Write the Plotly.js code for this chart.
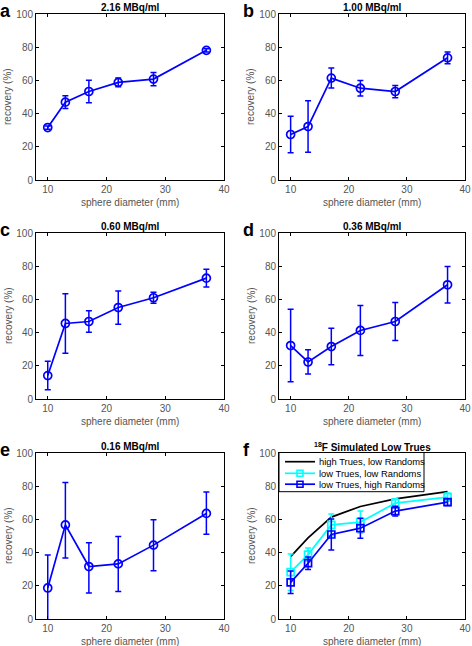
<!DOCTYPE html>
<html>
<head>
<meta charset="utf-8">
<script src="https://cdn.plot.ly/plotly-3.0.1.min.js"></script>
<style>html,body{margin:0;padding:0;background:#fff;}#chart{width:472px;height:646px;}</style>
</head>
<body>
<div id="chart"></div>
<script>
// ---- data ----
const diameters = [10, 13, 17, 22, 28, 37];
const panelLetters = ['a', 'b', 'c', 'd', 'e', 'f'];
const panelTitles = ['2.16 MBq/ml', '1.00 MBq/ml', '0.60 MBq/ml', '0.36 MBq/ml', '0.16 MBq/ml', '<sup>18</sup>F Simulated Low Trues'];

const recA = [31.6, 46.9, 53.3, 58.8, 60.8, 78.1];
const errA = [1.0, 3.8, 6.8, 2.6, 4.0, 1.0];
const recB = [27.4, 32.2, 61.4, 55.3, 53.3, 73.6];
const errB = [11.0, 15.5, 6.0, 4.7, 3.7, 3.5];
const recC = [14.1, 45.5, 46.7, 55.1, 61.0, 72.8];
const errC = [8.6, 17.9, 6.5, 10.0, 3.3, 5.3];
const recD = [32.2, 22.3, 31.6, 41.3, 46.7, 68.8];
const errD = [21.8, 7.3, 11.0, 15.1, 11.4, 11.0];
const recE = [18.7, 56.7, 31.6, 33.2, 44.5, 63.6];
const errEplus = [19.9, 25.6, 14.3, 16.5, 15.3, 12.9];
const errEminus = [19.9, 19.9, 15.9, 16.7, 15.5, 12.5];

const seriesNamesF = ['high Trues, low Randoms', 'low Trues, low Randoms', 'low Trues, high Randoms'];
const recFhighTrues = [37.6, 48.9, 61.4, 67.8, 72.4, 76.7];
const recFlowLow = [28.2, 38.8, 56.7, 58.4, 69.8, 73.4];
const errFlowLow = [11.0, 4.0, 6.5, 6.6, 2.7, 2.5];
const recFlowHigh = [22.1, 33.6, 50.9, 54.7, 65.0, 70.4];
const errFlowHigh = [6.8, 3.8, 9.4, 6.0, 2.9, 2.0];

const xTicks = [10, 20, 30, 40];
const yTicks = [0, 20, 40, 60, 80, 100];
const xLabel = 'sphere diameter (mm)';
const yLabel = 'recovery (%)';

// ---- layout geometry (pixels) ----
const W = 472, H = 646;
const cols = [[36, 224], [279, 465]];
const rows = [[14, 180], [233, 399], [453, 619]];
const FONT = 'Arial, "Liberation Sans", Helvetica, sans-serif';
const BLUE = '#0000ff';
const CYAN = '#00ffff';
const seriesColorsF = ['#000000', CYAN, BLUE];
const seriesMarkerF = [false, true, true];

const traces = [];
const layout = {
  width: W, height: H,
  margin: {l: 0, r: 0, t: 0, b: 0},
  paper_bgcolor: '#fff', plot_bgcolor: '#fff',
  showlegend: false,
  font: {family: FONT, size: 10, color: '#555'},
  annotations: [],
  shapes: []
};

function blueTrace(idx, y, ep, em) {
  const ax = idx === 0 ? '' : String(idx + 1);
  return {
    x: diameters, y: y, type: 'scatter', mode: 'lines+markers',
    xaxis: 'x' + ax, yaxis: 'y' + ax, showlegend: false,
    line: {color: BLUE, width: 1.7},
    marker: {symbol: 'circle-open', size: 8, color: BLUE, line: {width: 1.7, color: BLUE}},
    error_y: {type: 'data', symmetric: em === undefined, array: ep, arrayminus: em, color: BLUE, thickness: 1.5, width: 3},
    hoverinfo: 'skip'
  };
}

traces.push(blueTrace(0, recA, errA));
traces.push(blueTrace(1, recB, errB));
traces.push(blueTrace(2, recC, errC));
traces.push(blueTrace(3, recD, errD));
traces.push(blueTrace(4, recE, errEplus, errEminus));

// panel f
traces.push({
  x: diameters, y: recFhighTrues, type: 'scatter', mode: 'lines', name: seriesNamesF[0],
  xaxis: 'x6', yaxis: 'y6', line: {color: seriesColorsF[0], width: 1.7}, hoverinfo: 'skip'
});
traces.push({
  x: diameters, y: recFlowLow, type: 'scatter', mode: 'lines+markers', name: seriesNamesF[1],
  xaxis: 'x6', yaxis: 'y6', line: {color: seriesColorsF[1], width: 1.7},
  marker: {symbol: 'square-open', size: 7, color: seriesColorsF[1], line: {width: 1.7, color: seriesColorsF[1]}},
  error_y: {type: 'data', array: errFlowLow, color: seriesColorsF[1], thickness: 1.5, width: 3}, hoverinfo: 'skip'
});
traces.push({
  x: diameters, y: recFlowHigh, type: 'scatter', mode: 'lines+markers', name: seriesNamesF[2],
  xaxis: 'x6', yaxis: 'y6', line: {color: seriesColorsF[2], width: 1.7},
  marker: {symbol: 'square-open', size: 7, color: seriesColorsF[2], line: {width: 1.7, color: seriesColorsF[2]}},
  error_y: {type: 'data', array: errFlowHigh, color: seriesColorsF[2], thickness: 1.5, width: 3}, hoverinfo: 'skip'
});

for (let i = 0; i < 6; i++) {
  const c = cols[i % 2], r = rows[Math.floor(i / 2)];
  const ax = i === 0 ? '' : String(i + 1);
  const common = {
    showline: true, linecolor: '#000', linewidth: 1, mirror: 'ticks',
    ticks: 'inside', ticklen: 3, tickcolor: '#000', tickwidth: 1,
    showgrid: false, zeroline: false, fixedrange: true,
    tickfont: {family: FONT, size: 10, color: '#555'}
  };
  layout['xaxis' + ax] = Object.assign({}, common, {
    domain: [c[0] / W, c[1] / W], anchor: 'y' + ax,
    range: [8, 40], tickmode: 'array', tickvals: xTicks, ticktext: xTicks.map(String)
  });
  layout['yaxis' + ax] = Object.assign({}, common, {
    domain: [1 - r[1] / H, 1 - r[0] / H], anchor: 'x' + ax,
    range: [0, 100], tickmode: 'array', tickvals: yTicks, ticktext: yTicks.map(String)
  });
  layout.annotations.push({
    text: '<b>' + panelTitles[i] + '</b>', xref: 'paper', yref: 'paper',
    x: (c[0] + c[1]) / 2 / W, y: 1 - (r[0] - 6.5) / H, xanchor: 'center', yanchor: 'middle',
    showarrow: false, font: {family: FONT, size: 10, color: '#000'}
  });
  layout.annotations.push({
    text: '<b>' + panelLetters[i] + '</b>', xref: 'paper', yref: 'paper',
    x: (c[0] - 37) / W, y: 1 - (r[0] - 14) / H, xanchor: 'left', yanchor: 'top',
    showarrow: false, font: {family: FONT, size: 18, color: '#000'}, borderpad: 0
  });
  layout.annotations.push({
    text: xLabel, xref: 'paper', yref: 'paper',
    x: (c[0] + c[1]) / 2 / W, y: 1 - (r[1] + 22) / H, xanchor: 'center', yanchor: 'middle',
    showarrow: false, font: {family: FONT, size: 10, color: '#555'}
  });
  layout.annotations.push({
    text: yLabel, xref: 'paper', yref: 'paper', textangle: -90,
    x: (c[0] - 28) / W, y: 1 - (r[0] + r[1]) / 2 / H, xanchor: 'center', yanchor: 'middle',
    showarrow: false, font: {family: FONT, size: 10, color: '#555'}
  });
}

// ---- compact legend box for panel f (MATLAB style) ----
const lg = {x0: 279, x1: 424, y0: 452.5, y1: 491.7, rowY: [461.7, 473.3, 484.2], s0: 285, s1: 315, tx: 317};
const px = v => v / W, py = v => 1 - v / H;
layout.shapes.push({type: 'rect', xref: 'paper', yref: 'paper', layer: 'above',
  x0: px(lg.x0), x1: px(lg.x1), y0: py(lg.y1), y1: py(lg.y0),
  fillcolor: '#fff', line: {color: '#000', width: 1}});
seriesNamesF.forEach((name, k) => {
  const yy = lg.rowY[k];
  layout.shapes.push({type: 'line', xref: 'paper', yref: 'paper', layer: 'above',
    x0: px(lg.s0), x1: px(lg.s1), y0: py(yy), y1: py(yy),
    line: {color: seriesColorsF[k], width: 1.7}});
  if (seriesMarkerF[k]) {
    const m = (lg.s0 + lg.s1) / 2;
    layout.shapes.push({type: 'rect', xref: 'paper', yref: 'paper', layer: 'above',
      x0: px(m - 3), x1: px(m + 3), y0: py(yy + 3), y1: py(yy - 3),
      fillcolor: 'rgba(0,0,0,0)', line: {color: seriesColorsF[k], width: 1.6}});
  }
  layout.annotations.push({
    text: name, xref: 'paper', yref: 'paper', x: px(lg.tx), y: py(yy),
    xanchor: 'left', yanchor: 'middle', showarrow: false,
    font: {family: FONT, size: 9.4, color: '#000'}
  });
});

Plotly.newPlot('chart', traces, layout, {staticPlot: true, displayModeBar: false});
</script>
</body>
</html>
